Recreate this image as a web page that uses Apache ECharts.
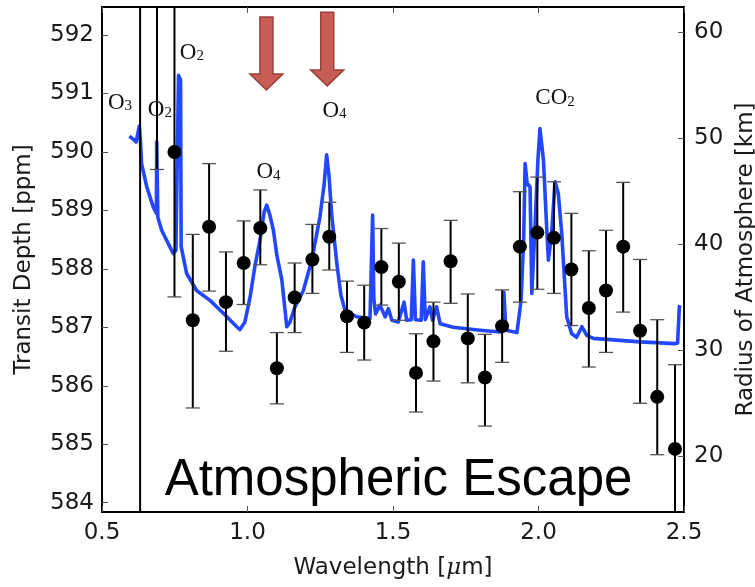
<!DOCTYPE html>
<html>
<head>
<meta charset="utf-8">
<script src="https://cdn.jsdelivr.net/npm/echarts@6/dist/echarts.min.js"></script>
<style>
  html, body { margin: 0; padding: 0; background: #fff; overflow: hidden; }
  #chart { width: 755px; height: 587px; }
</style>
</head>
<body>
<div id="chart"></div>
<script>
// ---- Observed transit depths (ppm) and 1-sigma bounds ----
const wavelength = [0.631, 0.689, 0.749, 0.812, 0.868, 0.926, 0.987, 1.044, 1.101, 1.162,
  1.223, 1.281, 1.342, 1.401, 1.460, 1.520, 1.579, 1.639, 1.698, 1.757,
  1.816, 1.875, 1.936, 1.996, 2.053, 2.113, 2.173, 2.232, 2.291, 2.349,
  2.408, 2.469];
const depth = [594.00, 593.20, 590.00, 587.12, 588.72, 587.43, 588.10, 588.70, 586.30, 587.51,
  588.16, 588.55, 587.19, 587.08, 588.03, 587.78, 586.22, 586.76, 588.13, 586.81,
  586.14, 587.02, 588.38, 588.62, 588.53, 587.99, 587.33, 587.63, 588.38, 586.94,
  585.81, 584.92];
const depthLow = [578.00, 589.70, 587.52, 585.62, 587.62, 586.59, 587.39, 588.07, 585.69, 586.91,
  587.58, 587.98, 586.57, 586.44, 587.38, 587.12, 585.55, 586.08, 587.41, 586.05,
  585.31, 586.40, 587.43, 587.65, 587.58, 587.03, 586.32, 586.57, 587.26, 585.70,
  584.82, 583.40];
const depthHigh = [610.00, 597.00, 592.60, 588.59, 589.80, 588.29, 588.82, 589.35, 586.91, 588.10,
  588.76, 589.14, 587.79, 587.72, 588.69, 588.44, 586.89, 587.43, 588.83, 587.57,
  586.88, 587.64, 589.32, 589.57, 589.49, 588.95, 588.31, 588.66, 589.48, 588.16,
  587.13, 586.36];

// ---- Model transmission spectrum ----
const modelWavelength = [0.594, 0.607, 0.617, 0.628, 0.632, 0.636, 0.654, 0.676, 0.687, 0.688,
  0.692, 0.705, 0.722, 0.745, 0.754, 0.763, 0.770, 0.772, 0.791, 0.825,
  0.871, 0.917, 0.963, 0.974, 0.991, 1.009, 1.026, 1.043, 1.057, 1.066,
  1.077, 1.089, 1.101, 1.118, 1.135, 1.146, 1.163, 1.192, 1.221, 1.249,
  1.263, 1.272, 1.280, 1.289, 1.307, 1.321, 1.335, 1.375, 1.421, 1.426,
  1.430, 1.434, 1.440, 1.455, 1.473, 1.484, 1.496, 1.518, 1.538, 1.547,
  1.563, 1.570, 1.577, 1.597, 1.604, 1.611, 1.627, 1.636, 1.650, 1.662,
  1.707, 1.799, 1.868, 1.875, 1.881, 1.888, 1.926, 1.940, 1.949, 1.954,
  1.961, 1.971, 1.977, 1.988, 1.998, 2.005, 2.017, 2.028, 2.034, 2.045,
  2.057, 2.068, 2.080, 2.086, 2.097, 2.114, 2.131, 2.149, 2.166, 2.188,
  2.349, 2.469, 2.478, 2.484, 2.486];
const modelDepth = [590.27, 590.22, 590.17, 590.44, 590.20, 589.80, 589.40, 589.06, 588.95, 590.18,
  588.88, 588.66, 588.49, 588.26, 588.32, 591.31, 591.23, 588.38, 587.92, 587.63,
  587.46, 587.24, 587.01, 586.96, 587.09, 587.52, 588.06, 588.49, 588.97, 589.09,
  588.92, 588.66, 588.23, 587.81, 587.01, 587.09, 587.35, 587.63, 588.15, 588.89,
  589.43, 589.95, 589.60, 588.95, 588.09, 587.55, 587.29, 587.18, 587.15, 587.16,
  588.92, 587.50, 587.23, 587.38, 587.18, 587.32, 587.12, 587.09, 587.43, 587.12,
  587.13, 588.15, 587.13, 587.12, 588.12, 587.13, 587.35, 587.12, 587.35, 587.06,
  587.00, 586.95, 586.92, 586.95, 587.60, 586.95, 586.91, 587.46, 588.49, 589.80,
  589.46, 589.40, 587.58, 588.72, 589.86, 590.40, 589.86, 588.72, 588.15, 588.60,
  589.49, 589.29, 588.60, 588.09, 587.18, 586.89, 586.83, 587.01, 586.86, 586.81,
  586.75, 586.72, 586.73, 587.35, 587.38];

// ---- Axis ticks ----
const wavelengthTicks = [0.5, 1.0, 1.5, 2.0, 2.5];
const depthTicks = [584, 585, 586, 587, 588, 589, 590, 591, 592];
const radiusTicks = [20, 30, 40, 50, 60];

// ---- Absorber labels ----
const speciesBase = ['O', 'O', 'O', 'O', 'O', 'CO'];
const speciesSub = ['3', '2', '2', '4', '4', '2'];
const speciesWavelength = [0.562, 0.699, 0.809, 1.072, 1.299, 2.057];
const speciesDepth = [590.84, 590.72, 591.70, 589.65, 590.70, 590.92];

// ---- Arrows marking the O4 bands ----
const arrowWavelength = [1.065, 1.274];
const arrowTop = [592.31, 592.39];
const arrowTip = [591.06, 591.13];

const DEPTH_MIN = 583.84, DEPTH_MAX = 592.48;
const RADIUS_MIN = 14.75, RADIUS_MAX = 62.39;

const chart = echarts.init(document.getElementById('chart'), null, { renderer: 'canvas' });

const tickFont = { fontFamily: 'DejaVu Sans', fontSize: 23, color: '#1a1a1a' };
const frameLine = { lineStyle: { color: '#000', width: 2 } };
const innerTick = { inside: true, length: 6, lineStyle: { color: '#555', width: 1 } };

const option = {
  animation: false,
  backgroundColor: '#fff',
  grid: { left: 102, right: 71, top: 7, bottom: 75, containLabel: false, outerBoundsMode: 'none' },
  xAxis: [
    {
      type: 'value', min: wavelengthTicks[0], max: wavelengthTicks[wavelengthTicks.length - 1],
      interval: 0.5, position: 'bottom',
      name: '{n|Wavelength [}{mu|μ}{n|m]}', nameLocation: 'middle', nameGap: 45,
      nameTextStyle: {
        rich: {
          n: { fontFamily: 'DejaVu Sans', fontSize: 23, color: '#1a1a1a' },
          mu: { fontFamily: 'DejaVu Serif', fontStyle: 'italic', fontSize: 23, color: '#1a1a1a' }
        }
      },
      axisLine: frameLine, axisTick: innerTick,
      axisLabel: Object.assign({ margin: 10, showMinLabel: true, showMaxLabel: true,
        formatter: v => v.toFixed(1) }, tickFont),
      splitLine: { show: false }
    },
    {
      type: 'value', min: wavelengthTicks[0], max: wavelengthTicks[wavelengthTicks.length - 1],
      interval: 0.5, position: 'top',
      axisLine: frameLine, axisTick: innerTick, axisLabel: { show: false },
      splitLine: { show: false }
    }
  ],
  yAxis: [
    {
      type: 'value', min: DEPTH_MIN, max: DEPTH_MAX, position: 'left',
      name: 'Transit Depth [ppm]', nameLocation: 'middle', nameRotate: 90, nameGap: 66,
      nameTextStyle: { fontFamily: 'DejaVu Sans', fontSize: 23, color: '#1a1a1a' },
      axisLine: frameLine,
      axisTick: Object.assign({ customValues: depthTicks }, innerTick),
      axisLabel: Object.assign({ customValues: depthTicks, margin: 8, formatter: v => String(Math.round(v)) }, tickFont),
      splitLine: { show: false }
    },
    {
      type: 'value', min: RADIUS_MIN, max: RADIUS_MAX, position: 'right',
      name: 'Radius of Atmosphere [km]', nameLocation: 'middle', nameRotate: 90, nameGap: 51,
      nameTextStyle: { fontFamily: 'DejaVu Sans', fontSize: 23, color: '#1a1a1a' },
      axisLine: frameLine,
      axisTick: Object.assign({ customValues: radiusTicks }, innerTick),
      axisLabel: Object.assign({ customValues: radiusTicks, margin: 10, formatter: v => String(Math.round(v)) }, tickFont),
      splitLine: { show: false }
    }
  ],
  series: [
    {
      name: 'model', type: 'line', xAxisIndex: 0, yAxisIndex: 0,
      data: modelWavelength.map((w, i) => [w, modelDepth[i]]),
      symbol: 'none', smooth: false, clip: true, z: 2,
      lineStyle: { color: '#2347ff', width: 3.6, join: 'round' }
    },
    {
      name: 'errors', type: 'custom', xAxisIndex: 0, yAxisIndex: 0, clip: true, z: 3,
      data: wavelength.map((w, i) => [w, depthLow[i], depthHigh[i]]),
      renderItem: function (params, api) {
        const w = api.value(0), lo = api.value(1), hi = api.value(2);
        const pLo = api.coord([w, Math.max(lo, DEPTH_MIN)]);
        const pHi = api.coord([w, Math.min(hi, DEPTH_MAX)]);
        const children = [{
          type: 'line',
          shape: { x1: pLo[0], y1: pLo[1], x2: pHi[0], y2: pHi[1] },
          style: { stroke: '#000', lineWidth: 2 }
        }];
        const capHalf = 7;
        if (lo >= DEPTH_MIN) children.push({
          type: 'line', shape: { x1: pLo[0] - capHalf, y1: pLo[1], x2: pLo[0] + capHalf, y2: pLo[1] },
          style: { stroke: '#555', lineWidth: 1.3 }
        });
        if (hi <= DEPTH_MAX) children.push({
          type: 'line', shape: { x1: pHi[0] - capHalf, y1: pHi[1], x2: pHi[0] + capHalf, y2: pHi[1] },
          style: { stroke: '#555', lineWidth: 1.3 }
        });
        return { type: 'group', children: children };
      }
    },
    {
      name: 'data', type: 'scatter', xAxisIndex: 0, yAxisIndex: 0, z: 4,
      data: wavelength.map((w, i) => [w, depth[i]]),
      symbol: 'circle', symbolSize: 14,
      itemStyle: { color: '#000', opacity: 1 }
    }
  ]
};

chart.setOption(option);

// Annotations placed in data coordinates through the chart's own scales
function toPx(w, d) {
  return chart.convertToPixel({ xAxisIndex: 0, yAxisIndex: 0 }, [w, d]);
}

const graphics = [];

speciesBase.forEach((base, i) => {
  const p = toPx(speciesWavelength[i], speciesDepth[i]);
  graphics.push({
    type: 'text', x: p[0], y: p[1], z: 10,
    style: {
      text: '{b|' + base + '}{s|' + speciesSub[i] + '}',
      align: 'center', verticalAlign: 'middle',
      rich: {
        b: { fontFamily: 'Liberation Serif', fontSize: 23, fill: '#111', lineHeight: 22, verticalAlign: 'middle' },
        s: { fontFamily: 'Liberation Serif', fontSize: 15, fill: '#111', lineHeight: 6, verticalAlign: 'bottom' }
      }
    }
  });
});

arrowWavelength.forEach((w, i) => {
  const top = toPx(w, arrowTop[i]);
  const tip = toPx(w, arrowTip[i]);
  const cx = top[0], shaft = 6.5, head = 16.5, headLen = 16;
  const yTop = top[1], yTip = tip[1], yHead = yTip - headLen;
  graphics.push({
    type: 'polygon', z: 10,
    shape: {
      points: [[cx - shaft, yTop], [cx + shaft, yTop], [cx + shaft, yHead], [cx + head, yHead],
               [cx, yTip], [cx - head, yHead], [cx - shaft, yHead]]
    },
    style: { fill: '#c65e56', stroke: '#9a4038', lineWidth: 1.5 }
  });
});

const titlePos = toPx(1.519, 584.38);
graphics.push({
  type: 'text', x: titlePos[0], y: titlePos[1], z: 10,
  style: {
    text: 'Atmospheric Escape', align: 'center', verticalAlign: 'middle',
    fontFamily: 'Liberation Sans', fontSize: 51, fill: '#000'
  }
});

chart.setOption({ graphic: graphics });
</script>
</body>
</html>
